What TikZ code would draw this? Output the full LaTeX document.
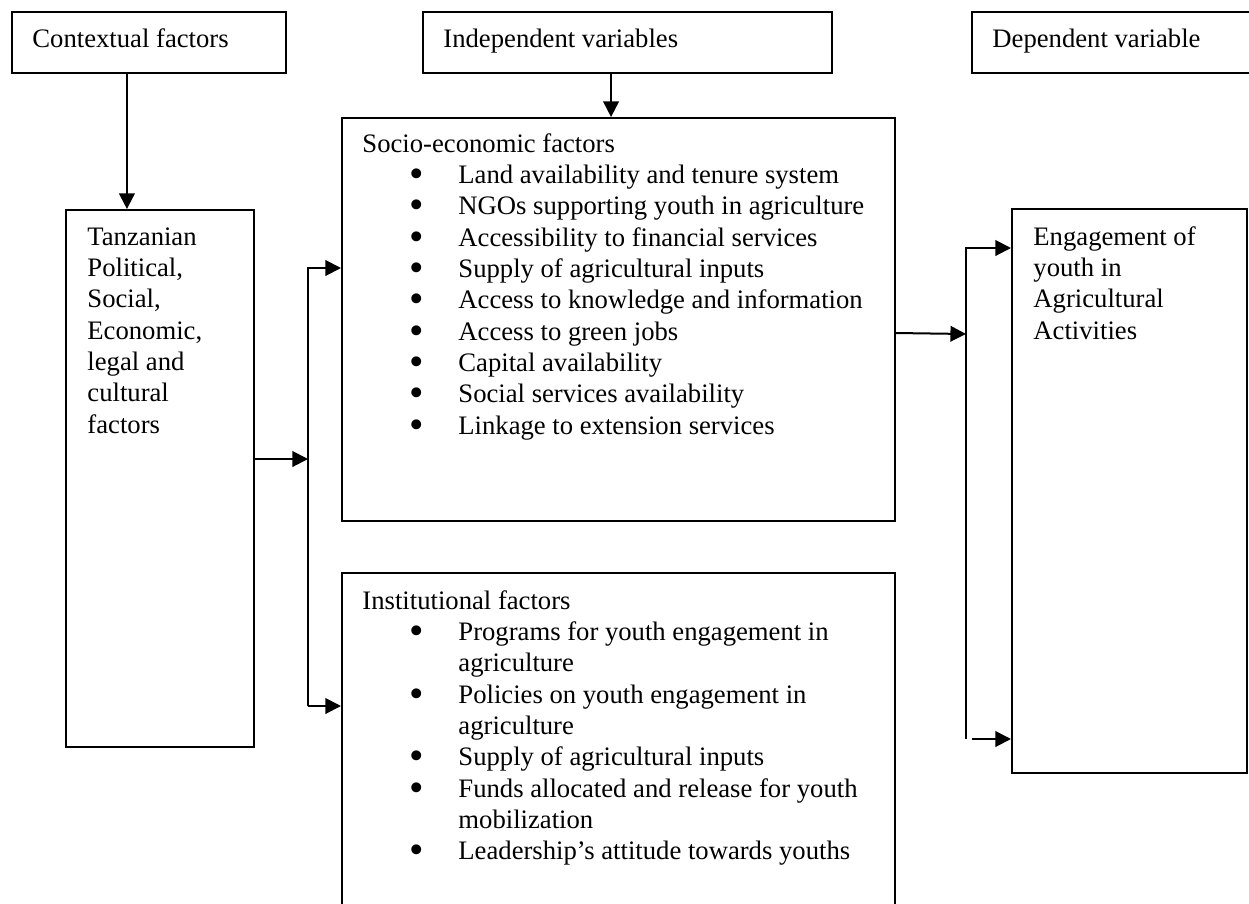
\documentclass[tikz,border=0pt]{standalone}
\usepackage{fontspec}
\setmainfont{Liberation Serif}
\usetikzlibrary{arrows.meta,fit,calc}
\newcommand\blk[1]{\begin{tabular}[t]{@{}l@{}}#1\end{tabular}}
\newcommand\bul{\smash{\raisebox{-1.9pt}{\scalebox{1.55}{\textbullet}}}}
\newcommand\itm[1]{\makebox[43.2pt][l]{\hspace{21.0pt}\bul}#1}
\newcommand\cnt[1]{\hspace*{43.2pt}#1}
\tikzset{
  box/.style={draw=black, line width=0.9pt, inner sep=0pt, rectangle},
  txt/.style={anchor=base west, inner sep=0pt, font=\fontsize{12}{14.1}\selectfont},
  arr/.style={line width=0.9pt, -{Triangle[length=7pt,width=7pt]}},
  ln/.style={line width=0.9pt}
}
\begin{document}
\begin{tikzpicture}[x=0.45pt,y=-0.45pt]
\useasboundingbox (0,0) rectangle (1249,904);
\clip (0,0) rectangle (1249,904);
% boxes
\node[box, fit={(12,12) (286,73)}] (ctx) {};
\node[box, fit={(423,12) (832,73)}] (ind) {};
\node[box, fit={(972,12) (1290,73)}] (dep) {};
\node[box, fit={(66,210) (254,747)}] (tz) {};
\node[box, fit={(342,118) (895,521)}] (soc) {};
\node[box, fit={(342,573) (895,940)}] (inst) {};
\node[box, fit={(1012,209) (1247,773)}] (eng) {};
% texts
\node[txt] (tctx) at (32,47) {Contextual factors};
\node[txt] (tind) at (443,47) {Independent variables};
\node[txt] (tdep) at (992,47) {Dependent variable};
\node[txt] (ttz) at (87,245) {\blk{Tanzanian\\Political,\\Social,\\Economic,\\legal and\\cultural\\factors}};
\node[txt] (tsoc) at (362,152) {\blk{Socio-economic factors\\
\itm{Land availability and tenure system}\\
\itm{NGOs supporting youth in agriculture}\\
\itm{Accessibility to financial services}\\
\itm{Supply of agricultural inputs}\\
\itm{Access to knowledge and information}\\
\itm{Access to green jobs}\\
\itm{Capital availability}\\
\itm{Social services availability}\\
\itm{Linkage to extension services}}};
\node[txt] (tinst) at (362,609) {\blk{Institutional factors\\
\itm{Programs for youth engagement in}\\
\cnt{agriculture}\\
\itm{Policies on youth engagement in}\\
\cnt{agriculture}\\
\itm{Supply of agricultural inputs}\\
\itm{Funds allocated and release for youth}\\
\cnt{mobilization}\\
\itm{Leadership’s attitude towards youths}}};
\node[txt] (teng) at (1033,245) {\blk{Engagement of\\youth in\\Agricultural\\Activities}};
% connectors
\draw[arr] ($(ctx.south west)!0.42!(ctx.south east)$) coordinate (a1) -- (a1 |- tz.north);
\draw[arr] ($(ind.south west)!0.46!(ind.south east)$) coordinate (a2) -- (a2 |- soc.north);
\coordinate (bt) at (308,268);
\coordinate (bm) at (308,459);
\coordinate (bb) at (308,706);
\draw[arr] (bm -| tz.east) -- (bm);
\draw[arr] (bb) -- (bt) -- (bt -| soc.west);
\draw[arr] (bb) -- (bb -| inst.west);
\coordinate (rt) at (966,248);
\coordinate (rm) at (966,334);
\coordinate (rb) at (966,739);
\coordinate (rb2) at (972,739);
\draw[arr] ([yshift=0.45pt]rm -| soc.east) -- (rm);
\draw[arr] (rb) -- (rt) -- (rt -| eng.west);
\draw[arr] (rb2) -- (rb2 -| eng.west);
\end{tikzpicture}
\end{document}
